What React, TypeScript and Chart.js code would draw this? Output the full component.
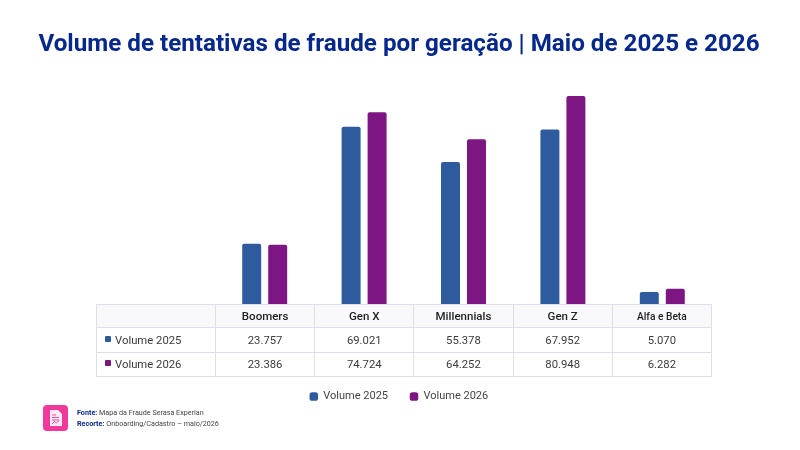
import { useEffect, useRef } from 'react'
import { Chart, registerables } from 'chart.js'
Chart.register(...registerables)

const TITLE = 'Volume de tentativas de fraude por geração | Maio de 2025 e 2026'
const GERACOES = ['Boomers', 'Gen X', 'Millennials', 'Gen Z', 'Alfa e Beta']
const VOLUME_2025 = [23757, 69021, 55378, 67952, 5070]
const VOLUME_2026 = [23386, 74724, 64252, 80948, 6282]
const LABEL_2025 = 'Volume 2025'
const LABEL_2026 = 'Volume 2026'
const COR_2025 = '#2e5a9e'
const COR_2026 = '#7d1582'

const FONT = "Roboto, sans-serif"
const BORDER = '#dde0ec'
const fmt = (v: number) => v.toLocaleString('pt-BR')

const cell: React.CSSProperties = { border: `1px solid ${BORDER}`, padding: 0, textAlign: 'center', fontSize: 11.3, color: '#3a3a3a', boxSizing: 'border-box' }

function Linha({ label, cor, valores, h }: { label: string; cor: string; valores: number[]; h: number }) {
  return (
    <tr style={{ height: h }}>
      <td style={{ ...cell, textAlign: 'left', paddingLeft: 8 }}>
        <span style={{ display: 'inline-block', width: 6, height: 6, borderRadius: 1, background: cor, marginRight: 4, verticalAlign: 2 }} />
        {label}
      </td>
      {valores.map((v, i) => <td key={i} style={cell}>{fmt(v)}</td>)}
    </tr>
  )
}

export default function App() {
  const ref = useRef<HTMLCanvasElement>(null)

  useEffect(() => {
    if (!ref.current) return
    const chart = new Chart(ref.current, {
      type: 'bar',
      data: {
        labels: GERACOES,
        datasets: [
          { label: LABEL_2025, data: VOLUME_2025, backgroundColor: COR_2025, borderRadius: { topLeft: 2, topRight: 2 } },
          { label: LABEL_2026, data: VOLUME_2026, backgroundColor: COR_2026, borderRadius: { topLeft: 2, topRight: 2 } },
        ],
      },
      options: {
        responsive: false,
        animation: false,
        layout: { padding: { top: 0, bottom: 38, left: 0, right: 2 } },
        datasets: { bar: { categoryPercentage: 0.523, barPercentage: 0.73 } },
        plugins: {
          tooltip: { enabled: false },
          title: {
            display: true,
            text: TITLE,
            color: '#06288c',
            font: { family: FONT, size: 24.2, weight: 'bold' },
            padding: { top: 30.5, bottom: 0 },
          },
          legend: {
            position: 'bottom',
            labels: {
              usePointStyle: true,
              pointStyle: 'rectRounded',
              boxWidth: 8,
              boxHeight: 7,
              padding: 22,
              color: '#444444',
              font: { family: FONT, size: 11 },
            },
          },
        },
        scales: {
          x: {
            grid: { display: false },
            border: { display: false },
            ticks: { display: false },
            afterFit: (s: any) => { s.height = 64 },
          },
          y: {
            min: 0,
            max: 95100,
            grid: { display: false },
            border: { display: false },
            ticks: { display: false },
            afterFit: (s: any) => { s.width = 215 },
          },
          yr: {
            position: 'right',
            grid: { display: false },
            border: { display: false },
            ticks: { display: false },
            afterFit: (s: any) => { s.width = 86 },
          },
        },
      } as any,
    })
    return () => chart.destroy()
  }, [])

  return (
    <div style={{ position: 'fixed', left: 0, top: 0, width: 800, height: 450, background: '#fff', fontFamily: FONT, overflow: 'hidden' }}>
      <canvas ref={ref} width={800} height={450} style={{ position: 'absolute', left: 0, top: 0 }} />

      <table style={{ position: 'absolute', left: 96, top: 304, width: 616, height: 72, borderCollapse: 'collapse', tableLayout: 'fixed' }}>
        <colgroup>
          <col style={{ width: 119 }} />
          {GERACOES.map(g => <col key={g} />)}
        </colgroup>
        <tbody>
          <tr style={{ height: 23, background: '#f9f9fc' }}>
            <td style={cell} />
            {GERACOES.map((g, i) => (
              <td key={g} style={{ ...cell, fontWeight: 500, color: '#222', fontSize: i === 4 ? 10.2 : 11.5 }}>{g}</td>
            ))}
          </tr>
          <Linha label={LABEL_2025} cor={COR_2025} valores={VOLUME_2025} h={25} />
          <Linha label={LABEL_2026} cor={COR_2026} valores={VOLUME_2026} h={24} />
        </tbody>
      </table>

      {/* Fonte */}
      <svg width="25" height="26" viewBox="0 0 25 26" style={{ position: 'absolute', left: 43, top: 405 }}>
        <rect width="25" height="26" rx="4" fill="#f0399b" />
        <path d="M7 5h8l4 4v12H7z" fill="#fff" opacity="0.9" />
        <path d="M9 10h4M9 12.5h7M9 15h7" stroke="#f0399b" strokeWidth="0.9" />
        <path d="M9 19l2.5-2.5 2 1.5 3-3" stroke="#f0399b" strokeWidth="0.9" fill="none" />
      </svg>
      <div style={{ position: 'absolute', left: 77, top: 407, fontSize: 7.2, lineHeight: '11px', color: '#444' }}>
        <div><b style={{ color: '#06288c' }}>Fonte:</b> Mapa da Fraude Serasa Experian</div>
        <div><b style={{ color: '#06288c' }}>Recorte:</b> Onboarding/Cadastro – maio/2026</div>
      </div>
    </div>
  )
}
